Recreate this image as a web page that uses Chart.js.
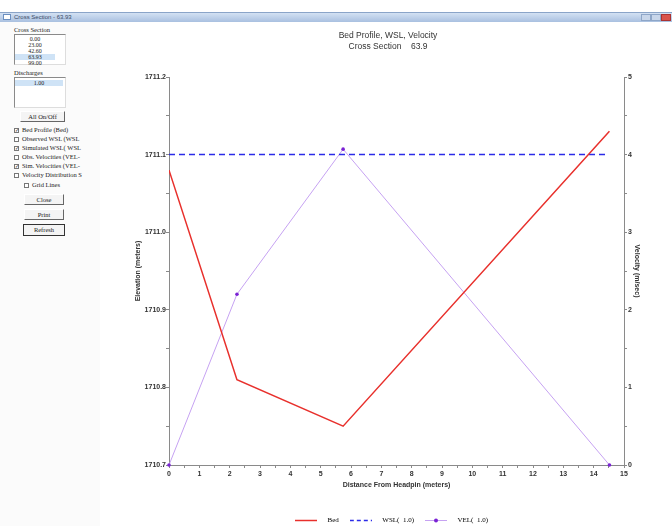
<!DOCTYPE html>
<html>
<head>
<meta charset="utf-8">
<script src="https://cdn.jsdelivr.net/npm/chart.js@4"></script>
<style>
  body { margin: 0; width: 672px; height: 526px; overflow: hidden; background: #fff; position: relative; font-family: "Liberation Serif", serif; }
  .titlebar { position: absolute; left: 0; top: 12px; width: 672px; height: 9px; background: linear-gradient(#d3e1f3, #a9c0e0); border-top: 1px solid #8aa4c8; }
  .titlebar .icon { position: absolute; left: 3px; top: 1px; width: 8px; height: 6px; background: #fff; border: 1px solid #6b8fc0; box-sizing: border-box; }
  .titlebar .txt { position: absolute; left: 14px; top: 0; font: 6px "Liberation Sans", sans-serif; color: #3a4a66; line-height: 8px; }
  .winbtn { position: absolute; top: 1px; width: 10px; height: 7px; background: #c8d6ea; border: 1px solid #8ea6c8; box-sizing: border-box; }
  .panel { position: absolute; left: 0; top: 22px; width: 100px; height: 504px; background: #fbfbfb; font-size: 6.5px; color: #222; }
  .lbl { position: absolute; white-space: nowrap; line-height: 8px; }
  .list { position: absolute; background: #fff; border: 1px solid #8a8a8a; border-right-color: #ddd; border-bottom-color: #ddd; box-sizing: border-box; }
  .item { position: absolute; left: 0; width: 40px; text-align: center; line-height: 6px; font-size: 6px; }
  .sel { background: #cfe3f6; }
  .btn { position: absolute; background: #f4f4f4; border: 1px solid #fff; border-right-color: #666; border-bottom-color: #666; box-sizing: border-box; text-align: center; font-size: 6.5px; line-height: 9px; }
  .chk { position: absolute; width: 5px; height: 5px; border: 1px solid #777; background: #fff; box-sizing: border-box; font-size: 5px; line-height: 3px; text-align: center; }
  #chart { position: absolute; left: 104px; top: 14px; }
</style>
</head>
<body>
<div class="titlebar">
  <div class="icon"></div>
  <div class="txt">Cross Section - 63.93</div>
  <div class="winbtn" style="left:641px"></div>
  <div class="winbtn" style="left:651px"></div>
  <div class="winbtn" style="left:661px;background:#d9534a;border-color:#a33"></div>
</div>

<div class="panel">
  <div class="lbl" style="left:14px;top:4px">Cross Section</div>
  <div class="list" style="left:14px;top:12px;width:52px;height:31px">
    <div class="item" style="top:1px">0.00</div>
    <div class="item" style="top:7px">23.00</div>
    <div class="item" style="top:13px">42.60</div>
    <div class="item sel" style="top:19px">63.93</div>
    <div class="item" style="top:25px">99.00</div>
  </div>
  <div class="lbl" style="left:14px;top:47px">Discharges</div>
  <div class="list" style="left:14px;top:55px;width:52px;height:31px">
    <div class="item sel" style="top:2px;width:48px">1.00</div>
  </div>
  <div class="btn" style="left:20px;top:89px;width:45px;height:11px">All On/Off</div>

  <div class="chk" style="left:14px;top:106px">&#10003;</div><div class="lbl" style="left:22px;top:104px">Bed Profile (Bed)</div>
  <div class="chk" style="left:14px;top:115px"></div><div class="lbl" style="left:22px;top:113px">Observed WSL (WSL</div>
  <div class="chk" style="left:14px;top:124px">&#10003;</div><div class="lbl" style="left:22px;top:122px">Simulated WSL( WSL</div>
  <div class="chk" style="left:14px;top:133px"></div><div class="lbl" style="left:22px;top:131px">Obs. Velocities (VEL-</div>
  <div class="chk" style="left:14px;top:142px">&#10003;</div><div class="lbl" style="left:22px;top:140px">Sim. Velocities (VEL-</div>
  <div class="chk" style="left:14px;top:151px"></div><div class="lbl" style="left:22px;top:149px">Velocity Distribution S</div>
  <div class="chk" style="left:24px;top:161px"></div><div class="lbl" style="left:32px;top:159px">Grid Lines</div>

  <div class="btn" style="left:24px;top:172px;width:40px;height:11px">Close</div>
  <div class="btn" style="left:24px;top:187px;width:40px;height:11px">Print</div>
  <div class="btn" style="left:23px;top:202px;width:42px;height:12px;border:1px solid #333">Refresh</div>
</div>

<canvas id="chart" width="568" height="520"></canvas>

<script>
// distances along the section (m)
const bedDistance = [0, 2.24, 5.74, 14.52];
const bedElevation = [1711.08, 1710.81, 1710.75, 1711.13];

const wslDistance = [0, 14.45];
const wslElevation = [1711.1, 1711.1];

const velDistance = [0, 2.24, 5.74, 14.52];
const velocity = [0, 2.2, 4.07, 0];

const legendLabels = ["Bed", "WSL(  1.0)", "VEL(  1.0)"];

const BED_COLOR = "#e8302c";
const WSL_COLOR = "#2b2be8";
const VEL_COLOR = "#c6a2f2";
const VEL_POINT = "#7a22d4";

function toPoints(xs, ys) {
  return xs.map((x, i) => ({ x: x, y: ys[i] }));
}

// small images used as legend samples
function legendSample(color, dash, withDot) {
  const c = document.createElement("canvas");
  c.width = 22;
  c.height = 7;
  const g = c.getContext("2d");
  g.strokeStyle = color;
  g.lineWidth = withDot ? 1 : 1.5;
  g.setLineDash(dash);
  g.beginPath();
  g.moveTo(0, 3.5);
  g.lineTo(22, 3.5);
  g.stroke();
  if (withDot) {
    g.fillStyle = VEL_POINT;
    g.beginPath();
    g.arc(11, 3.5, 2, 0, Math.PI * 2);
    g.fill();
  }
  return c;
}

const samples = [
  legendSample(BED_COLOR, [], false),
  legendSample(WSL_COLOR, [4, 3], false),
  legendSample(VEL_COLOR, [], true),
];

const tickFont = { family: "Arial, 'Liberation Sans', sans-serif", size: 7, weight: "bold" };
const axisTitleFont = { family: "Arial, 'Liberation Sans', sans-serif", size: 7, weight: "bold", lineHeight: 1.2 };

new Chart(document.getElementById("chart"), {
  type: "line",
  data: {
    datasets: [
      {
        label: legendLabels[0],
        data: toPoints(bedDistance, bedElevation),
        borderColor: BED_COLOR,
        borderWidth: 1.5,
        pointRadius: 0,
        yAxisID: "y",
      },
      {
        label: legendLabels[1],
        data: toPoints(wslDistance, wslElevation),
        borderColor: WSL_COLOR,
        borderWidth: 1.5,
        borderDash: [6, 4],
        pointRadius: 0,
        yAxisID: "y",
      },
      {
        label: legendLabels[2],
        data: toPoints(velDistance, velocity),
        borderColor: VEL_COLOR,
        borderWidth: 1,
        pointRadius: 1.8,
        pointBackgroundColor: VEL_POINT,
        pointBorderColor: VEL_POINT,
        pointBorderWidth: 0,
        yAxisID: "y1",
        clip: false,
      },
    ],
  },
  options: {
    responsive: false,
    animation: false,
    events: [],
    layout: { padding: 0 },
    plugins: {
      title: {
        display: true,
        text: ["Bed Profile, WSL, Velocity", "Cross Section    63.9"],
        color: "#333",
        font: { family: "Arial, 'Liberation Sans', sans-serif", size: 8.5, weight: "normal", lineHeight: 1.3 },
        padding: { top: 16.5, bottom: 24.4 },
      },
      legend: {
        position: "bottom",
        labels: {
          usePointStyle: true,
          pointStyleWidth: 36,
          padding: 4,
          color: "#222",
          font: { family: "'Liberation Serif', serif", size: 7 },
          generateLabels: (chart) =>
            chart.data.datasets.map((ds, i) => ({
              text: ds.label,
              pointStyle: samples[i],
              fillStyle: "transparent",
              strokeStyle: "transparent",
              lineWidth: 0,
              datasetIndex: i,
            })),
        },
      },
      tooltip: { enabled: false },
    },
    scales: {
      x: {
        type: "linear",
        min: 0,
        max: 15,
        afterFit: (scale) => { scale.height = 48; },
        ticks: {
          stepSize: 0.5,
          autoSkip: false,
          maxRotation: 0,
          padding: 2,
          color: "#333",
          font: tickFont,
          callback: (value) => (Number.isInteger(value) ? String(value) : ""),
        },
        grid: { drawOnChartArea: false, tickLength: 3, color: "#8a8a8a" },
        border: { color: "#8a8a8a" },
        title: {
          display: true,
          text: "Distance From Headpin (meters)",
          color: "#333",
          font: axisTitleFont,
          padding: { top: 0, bottom: 24 },
        },
      },
      y: {
        position: "left",
        min: 1710.7,
        max: 1711.2,
        afterFit: (scale) => { scale.width = 65; },
        ticks: {
          stepSize: 0.05,
          autoSkip: false,
          padding: 0,
          color: "#333",
          font: tickFont,
          callback: (value) => {
            const v = Math.round(value * 100);
            return v % 10 === 0 ? (v / 100).toFixed(1) : "";
          },
        },
        grid: { drawOnChartArea: false, tickLength: 3, color: "#8a8a8a" },
        border: { color: "#8a8a8a" },
        title: {
          display: true,
          text: "Elevation (meters)",
          color: "#333",
          font: axisTitleFont,
          padding: { top: 30, bottom: 0 },
        },
      },
      y1: {
        position: "right",
        min: 0,
        max: 5,
        afterFit: (scale) => { scale.width = 48; },
        ticks: {
          stepSize: 0.5,
          autoSkip: false,
          padding: 1,
          color: "#333",
          font: tickFont,
          callback: (value) => (Number.isInteger(value) ? String(value) : ""),
        },
        grid: { drawOnChartArea: false, tickLength: 3, color: "#8a8a8a" },
        border: { color: "#8a8a8a" },
        title: {
          display: true,
          text: "Velocity (m/sec)",
          color: "#333",
          font: axisTitleFont,
          padding: { top: 31, bottom: 0 },
        },
      },
    },
  },
});
</script>
</body>
</html>
